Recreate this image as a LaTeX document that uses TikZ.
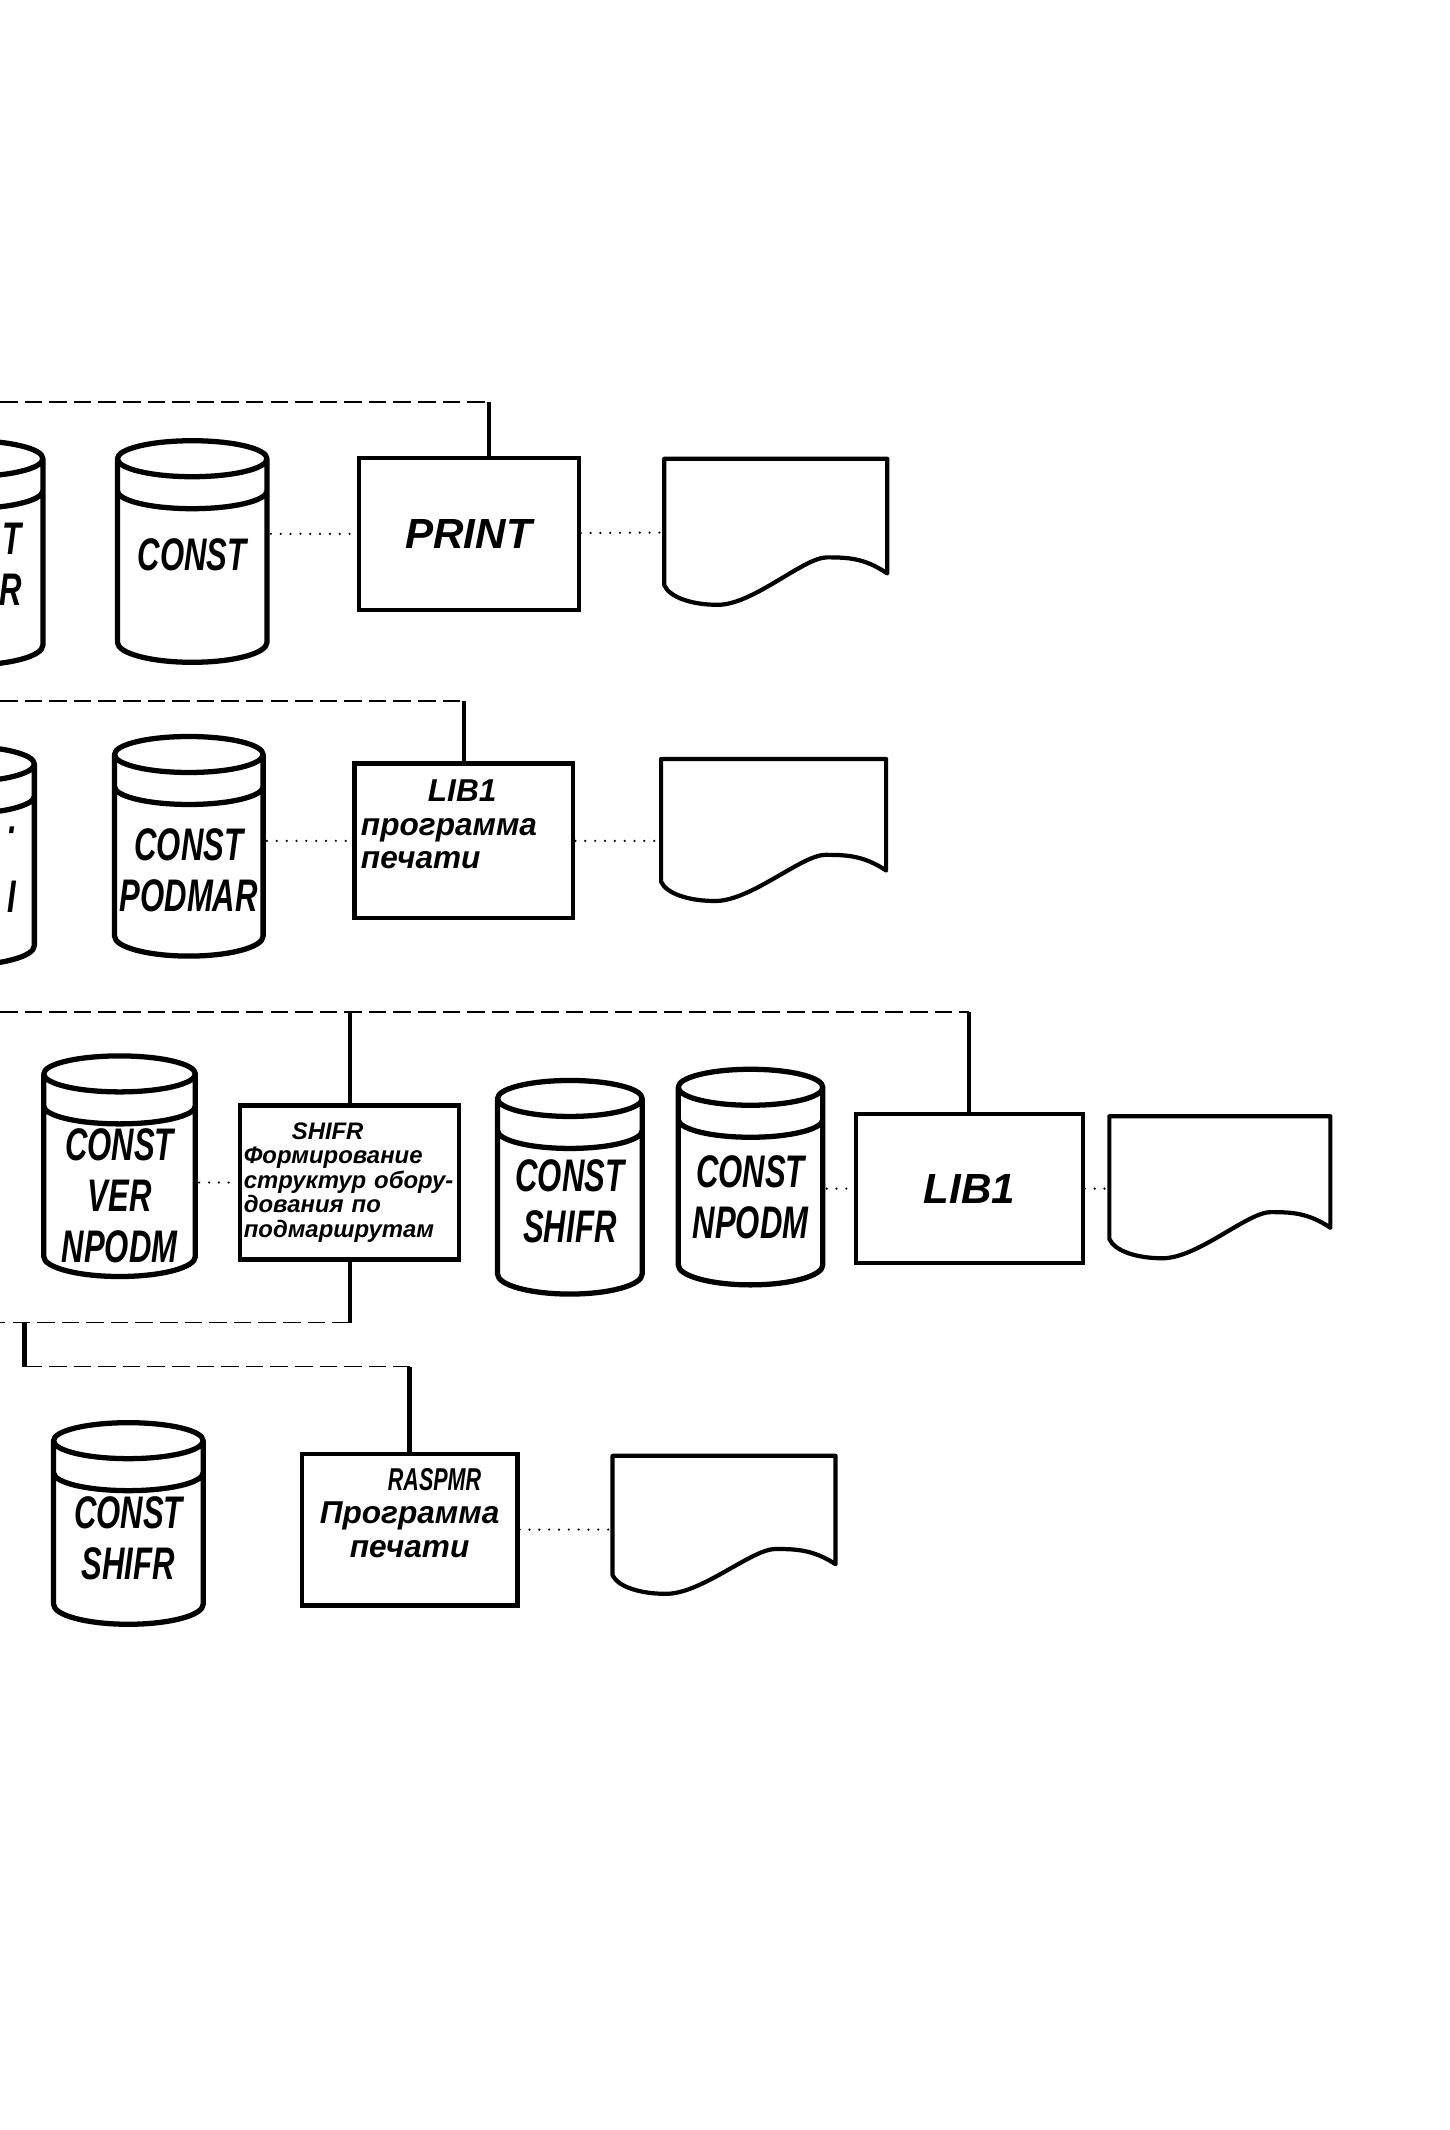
\documentclass[tikz,border=0pt]{standalone}
\usepackage{fontspec}
\setmainfont{Liberation Sans}
\newfontfamily\handfont{Liberation Sans}
\newfontfamily\handcond[FakeStretch=0.68]{Liberation Sans}
\newcommand\drumtext{\handcond\bfseries\itshape\fontsize{13}{14.5}\selectfont}
\newcommand\bigtext{\handfont\bfseries\itshape\fontsize{12}{14}\selectfont}
\newcommand\boxtext{\handfont\bfseries\itshape\fontsize{9}{9.5}\selectfont\lineskiplimit=-5pt}
\newcommand\tinytext{\handfont\bfseries\itshape\fontsize{6.8}{7}\selectfont\lineskiplimit=-5pt}
\usetikzlibrary{calc}
\tikzset{
  drumline/.style={line width=1.5pt, line join=round},
  docline/.style={line width=1.2pt, line join=round},
  drumlabel/.style={font=\drumtext, align=center, inner sep=0pt},
  drum/.style={inner sep=0pt,
    path picture={
      \draw[drumline, shift={(path picture bounding box.center)}]
        let \p1=($(path picture bounding box.north east)-(path picture bounding box.center)-(0.9pt,0.9pt)$) in
        (0pt,\y1-1.8mm) ellipse [x radius=\x1, y radius=1.8mm]
        (-\x1,\y1-1.8mm) -- (-\x1,-\y1+2mm)
        arc [start angle=180, end angle=360, x radius=\x1, y radius=2mm] -- (\x1,\y1-1.8mm)
        (-\x1,\y1-5mm) arc [start angle=180, end angle=360, x radius=\x1, y radius=1.8mm];
    }},
  procbox/.style={draw, line width=1.2pt, inner sep=1pt, align=center, font=\boxtext},
  printout/.style={inner sep=0pt,
    path picture={
      \draw[docline, shift={(path picture bounding box.center)}]
        let \p1=($(path picture bounding box.north east)-(path picture bounding box.center)-(0.7pt,0.7pt)$) in
        (-\x1,\y1) -- (\x1,\y1) -- (\x1,{-0.57*\y1})
        .. controls ({0.8*\x1},{-0.36*\y1}) and ({0.65*\x1},{-0.35*\y1}) .. ({0.46*\x1},{-0.35*\y1})
        .. controls ({0.25*\x1},{-0.35*\y1}) and ({-0.2*\x1},-\y1) .. ({-0.52*\x1},-\y1)
        .. controls ({-0.75*\x1},-\y1) and ({-0.95*\x1},{-0.9*\y1}) .. (-\x1,{-0.73*\y1})
        -- cycle;
    }},
  bus/.style={line width=0.4pt, dash pattern=on 5pt off 2pt},
  drop/.style={line width=1.2pt},
  dataflow/.style={line width=0.7pt, line cap=round, dash pattern=on 0pt off 2.8pt}
}
\begin{document}
\begin{tikzpicture}[x=0.1359mm, y=-0.1359mm]
  \useasboundingbox (0,0) rectangle (1067,1568);
  \clip (0,0) rectangle (1067,1568);
  % row 1
  \node[drum, minimum width=15.6mm, minimum height=23.1mm,
    label={[drumlabel, text width=10.7mm, align=right, yshift=-1.1mm]center:T\\R}] (drumA) at (-23.5,407) {};
  \node[drum, minimum width=15.6mm, minimum height=22.8mm,
    label={[drumlabel, yshift=-0.3mm]center:CONST}] (const1) at (141.5,406) {};
  \node[procbox, font=\bigtext, minimum width=22mm, minimum height=15.2mm] (print) at (345,393) {PRINT};
  \node[printout, minimum width=22.8mm, minimum height=15.1mm] (doc1) at (571,391.5) {};
  \coordinate (bus1) at (0,296);
  \coordinate (print-in) at ([xshift=2mm]print.north);
  \draw[bus] (bus1) -- (bus1 -| print-in);
  \draw[drop] (bus1 -| print-in) -- (print-in);
  \draw[dataflow] (print.west -| const1.east) -- (print.west);
  \draw[dataflow] (print) -- (doc1);
  % row 2
  \node[drum, minimum width=15.8mm, minimum height=22.6mm,
    label={[drumlabel, text width=11.6mm, align=right, yshift=-1.4mm]center:·\\\rule{0pt}{6.3mm}I}] (drumB) at (-30.5,630) {};
  \node[drum, minimum width=15.5mm, minimum height=22.6mm,
    label={[drumlabel, yshift=-2.4mm]center:CONST\\PODMAR}] (podmar) at (139,623) {};
  \node[procbox, align=left, text width=20.6mm, minimum width=21.9mm, minimum height=15.5mm] (lib1) at (341.5,619)
    {\hspace*{6.7mm}LIB1\\программа\\печати\\\mbox{}};
  \node[printout, minimum width=23mm, minimum height=14.7mm] (doc2) at (569.5,611) {};
  \coordinate (bus2) at (0,516);
  \draw[bus] (bus2) -- (bus2 -| lib1.north);
  \draw[drop] (bus2 -| lib1.north) -- (lib1.north);
  \draw[dataflow] (lib1.west -| podmar.east) -- (lib1.west);
  \draw[dataflow] (lib1.east) -- (lib1.east -| doc2.west);
  % row 3
  \node[drum, minimum width=15.8mm, minimum height=22.7mm,
    label={[drumlabel, yshift=-3mm]center:CONST\\VER\\NPODM}] (verdrum) at (88,858.5) {};
  \node[procbox, font=\tinytext, align=left, text width=21.2mm, minimum width=21.9mm, minimum height=15.4mm] (shifr) at (257.5,870.5)
    {\hspace*{4.8mm}SHIFR\\Формирование\\структур обору-\\дования по\\подмаршрутам};
  \node[drum, minimum width=15.1mm, minimum height=22mm,
    label={[drumlabel, yshift=-1.4mm]center:CONST\\SHIFR}] (shifrdrum) at (419.5,874) {};
  \node[drum, minimum width=15.1mm, minimum height=22.2mm,
    label={[drumlabel, yshift=-2mm]center:CONST\\NPODM}] (npodm) at (552.5,866.5) {};
  \node[procbox, font=\bigtext, minimum width=22.7mm, minimum height=14.9mm] (lib1b) at (713.5,875) {LIB1};
  \node[printout, minimum width=22.6mm, minimum height=14.7mm] (doc3) at (898,874) {};
  \coordinate (bus3) at (0,745);
  \draw[bus] (bus3) -- (bus3 -| lib1b.north);
  \draw[drop] (bus3 -| shifr.north) -- (shifr.north);
  \draw[drop] (bus3 -| lib1b.north) -- (lib1b.north);
  \draw[dataflow] (shifr.west -| verdrum.east) -- (shifr.west);
  \draw[dataflow] (lib1b.west -| npodm.east) -- (lib1b.west);
  \draw[dataflow] (lib1b.east) -- (lib1b.east -| doc3.west);
  \draw[drop] (shifr.south) -- ++(0,45) coordinate (shifr-out);
  \draw[bus] (shifr-out) -- (shifr-out -| bus3);
  % row 4
  \node[drum, minimum width=15.6mm, minimum height=20.8mm,
    label={[drumlabel, yshift=-1.5mm]center:CONST\\SHIFR}] (drumD) at (94.5,1121.5) {};
  \node[procbox, minimum width=21.6mm, minimum height=15.2mm] (raspmr) at (301.5,1126)
    {\hspace*{5mm}{\handcond RASPMR}\\Программа\\печати\\\mbox{}};
  \node[printout, minimum width=22.8mm, minimum height=14.3mm] (doc4) at (533,1122.5) {};
  \coordinate (bus4) at (18,1006);
  \draw[drop] (bus4 |- shifr-out) -- (bus4);
  \draw[bus] (bus4) -- (bus4 -| raspmr.north);
  \draw[drop] (bus4 -| raspmr.north) -- (raspmr.north);
  \draw[dataflow] (raspmr.east) -- (raspmr.east -| doc4.west);
\end{tikzpicture}
\end{document}
